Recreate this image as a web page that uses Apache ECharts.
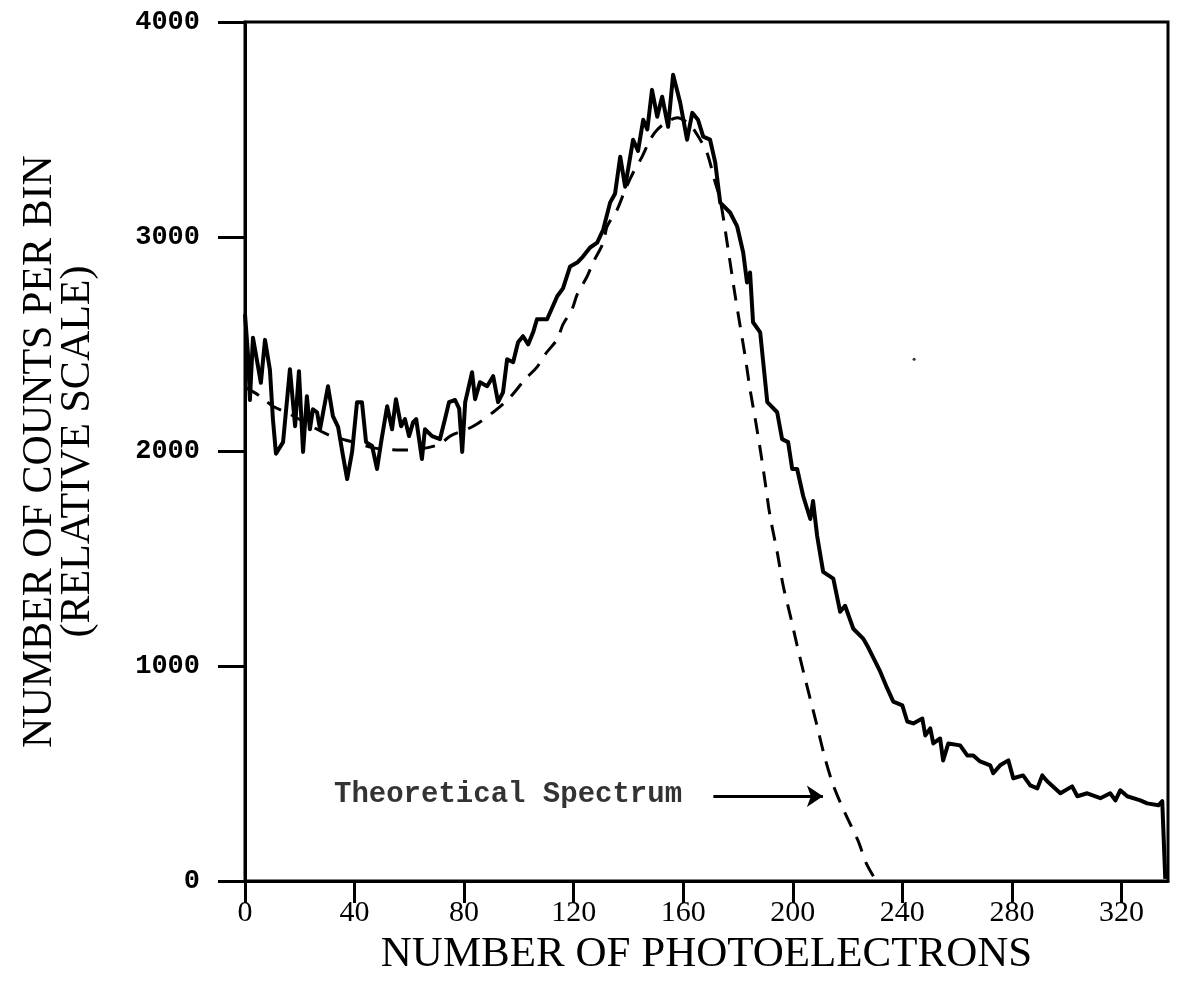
<!DOCTYPE html>
<html><head><meta charset="utf-8">
<script src="https://cdn.jsdelivr.net/npm/echarts@6/dist/echarts.min.js"></script>
<style>html,body{margin:0;padding:0;background:#fff}#c{width:1184px;height:981px}</style>
</head><body><div id="c"></div>
<script>
const xTicks = [0, 40, 80, 120, 160, 200, 240, 280, 320];
const yTicks = [0, 1000, 2000, 3000, 4000];

const measuredX = [0,1.1,1.8,2.9,4.7,5.8,7.3,9.1,10.2,11.3,13.9,16.4,18.3,19.7,21.2,22.6,23.7,24.8,26.3,27.4,30.3,32.1,34.0,35.8,37.3,39.1,40.9,42.7,44.2,46.4,48.2,49.7,51.9,53.7,55.1,57.0,58.4,59.9,61.4,62.5,64.6,65.7,68.3,71.2,73.0,74.5,76.7,78.2,79.3,80.4,82.9,84.0,85.8,88.4,90.6,92.4,94.2,95.7,97.9,99.7,101.5,103.4,105.2,106.6,110.3,114.0,116.1,118.7,121.3,123.4,126.0,128.6,130.8,133.3,135.1,137.0,138.8,141.7,143.5,145.4,146.9,148.6,150.5,152.3,154.5,156.3,157.4,158.9,161.4,163.3,165.4,167.3,169.8,171.7,173.5,177.1,179.7,181.9,183.3,184.4,185.5,188.1,190.7,194.3,196.1,198.3,199.8,201.6,203.8,206.4,207.4,208.9,211.1,214.8,217.3,219.1,222.1,225.7,227.2,231.9,234.5,236.7,240.0,241.8,244.0,247.3,248.4,250.2,251.3,253.8,254.9,256.8,261.1,263.7,265.9,268.4,272.1,273.2,275.7,278.7,280.5,284.1,286.7,289.3,291.1,292.9,297.7,302.0,303.9,307.5,312.3,315.9,317.8,319.6,322.1,326.9,329.4,333.5,334.9,336.0];
const measuredY = [2640,2450,2240,2530,2400,2320,2520,2380,2150,1990,2044,2383,2118,2374,1998,2258,2104,2197,2183,2104,2304,2165,2114,1979,1872,1998,2230,2230,2044,2026,1919,2044,2211,2104,2244,2118,2151,2072,2137,2151,1965,2104,2072,2058,2150,2230,2240,2200,1998,2230,2369,2244,2323,2304,2351,2230,2276,2430,2416,2509,2537,2499,2555,2616,2616,2723,2760,2862,2880,2908,2950,2973,3034,3159,3200,3373,3233,3452,3400,3545,3500,3684,3559,3652,3512,3754,3700,3624,3452,3577,3545,3466,3452,3345,3159,3113,3048,2927,2787,2834,2602,2555,2230,2183,2058,2044,1919,1919,1793,1686,1770,1607,1440,1408,1254,1282,1175,1129,1096,976,897,836,818,743,734,757,678,711,641,664,562,641,632,585,585,557,539,502,539,562,479,492,446,432,492,465,409,441,395,409,386,409,376,423,395,376,362,353,372,10];

const theoryX = [0,5.5,10.2,16.4,29.9,39.4,47.5,56.6,63.9,71.2,74.9,83.3,90.6,96.8,102.3,106.6,109.6,114.0,116.1,119.4,121.3,124.9,127.1,130.8,132.2,135.9,138.8,141.7,145.0,147.9,150.5,154.1,157.8,162.5,166.2,168.7,171.7,173.5,176.4,179.0,182.6,184.4,186.3,188.1,189.9,191.7,194.3,196.5,199.1,201.6,204.5,208.2,211.8,214.8,219.1,223.9,226.8,230.5];
const theoryY = [2300,2258,2211,2174,2081,2044,2016,2007,2012,2035,2072,2118,2183,2253,2337,2393,2453,2523,2592,2662,2732,2815,2880,2973,3048,3127,3219,3298,3373,3452,3498,3535,3554,3521,3452,3391,3252,3173,2941,2723,2444,2290,2151,2012,1858,1700,1533,1375,1236,1096,943,757,571,446,316,186,84,0];

const annotText = 'Theoretical Spectrum';
const annotPos = [32.5, 400];
const arrowFrom = [171, 395];
const arrowTo = [211, 395];
const speck = [[244.3, 2430]];

const pairs = (xs, ys) => xs.map((x, i) => [x, ys[i]]);

const chart = echarts.init(document.getElementById('c'), null, {renderer: 'canvas'});
chart.setOption({
  animation: false,
  backgroundColor: '#fff',
  tooltip: {show: false},
  grid: {left: 245, right: 16, top: 22, bottom: 98, show: true, borderColor: '#000', borderWidth: 3},
  xAxis: {
    type: 'value', min: 0, max: 337,
    name: 'NUMBER OF PHOTOELECTRONS', nameLocation: 'middle', nameGap: 40,
    nameTextStyle: {fontFamily: 'Liberation Serif', fontSize: 43, color: '#000'},
    axisLine: {show: true, lineStyle: {color: '#000', width: 3}},
    axisTick: {show: true, length: 22, customValues: xTicks, lineStyle: {color: '#000', width: 3}},
    axisLabel: {customValues: xTicks, margin: 17, fontFamily: 'Liberation Serif', fontSize: 30, color: '#000',
      formatter: v => String(v)},
    splitLine: {show: false}
  },
  yAxis: {
    type: 'value', min: 0, max: 4000, interval: 1000,
    name: 'NUMBER OF COUNTS PER BIN\n(RELATIVE SCALE)', nameLocation: 'middle', nameRotate: 90, nameGap: 148,
    nameTextStyle: {fontFamily: 'Liberation Serif', fontSize: 42, lineHeight: 38, color: '#000'},
    axisLine: {show: true, lineStyle: {color: '#000', width: 3}},
    axisTick: {show: true, length: 27, customValues: yTicks, lineStyle: {color: '#000', width: 3}},
    axisLabel: {customValues: yTicks, margin: 45, fontFamily: 'Liberation Mono', fontSize: 27, fontWeight: 'bold', color: '#000',
      formatter: v => String(v)},
    splitLine: {show: false}
  },
  series: [
    {
      type: 'line', name: 'Measured', data: pairs(measuredX, measuredY),
      showSymbol: false, symbol: 'none', silent: true, z: 4,
      lineStyle: {color: '#000', width: 4, join: 'round'}
    },
    {
      type: 'line', name: 'Theoretical Spectrum', data: pairs(theoryX, theoryY),
      showSymbol: false, symbol: 'none', silent: true, smooth: 0.3, z: 3,
      lineStyle: {color: '#000', width: 3, type: [16, 11]}
    },
    {
      type: 'scatter', data: [annotPos], symbolSize: 0, silent: true,
      label: {show: true, position: 'right', distance: 0, formatter: annotText,
        fontFamily: 'Liberation Mono', fontSize: 29, fontWeight: 'bold', color: '#000'},
      markLine: {
        silent: true, symbol: ['none', 'arrow'], symbolSize: 16,
        label: {show: false},
        lineStyle: {color: '#000', width: 3, type: 'solid'},
        data: [[{coord: arrowFrom}, {coord: arrowTo}]]
      }
    },
    {
      type: 'scatter', data: speck, symbolSize: 3, silent: true,
      itemStyle: {color: '#000'}
    }
  ]
});
</script></body></html>
